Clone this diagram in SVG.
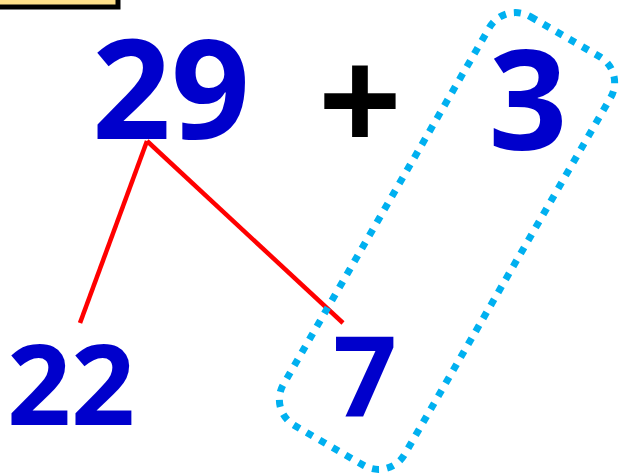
<svg xmlns="http://www.w3.org/2000/svg" width="621" height="474" viewBox="0 0 621 474">
<style>
.num{font-family:"Open Sans","Liberation Sans",sans-serif;font-weight:bold;fill:#0000CC;text-anchor:middle}
.big{font-size:138px}
.small{font-size:112px}
.conn line{stroke:#FF0000;stroke-width:4.5;stroke-linecap:butt}
</style>
<rect x="-10" y="-30" width="128" height="37" fill="#FFE08A" stroke="#000" stroke-width="5"/>
<g id="n29"><text class="num big" x="171" y="139">29</text></g>
<g id="plus"><text x="360" y="153" font-family="'Open Sans','Liberation Sans',sans-serif" font-weight="bold" font-size="147" text-anchor="middle" fill="#000">+</text></g>
<g id="n3"><text class="num big" x="528" y="150">3</text></g>
<g id="n22"><text class="num small" x="71" y="425">22</text></g>
<g id="n7"><text class="num small" x="365" y="416">7</text></g>
<g id="conn" class="conn">
<line x1="147" y1="141" x2="80" y2="323"/>
<line x1="147" y1="141" x2="343" y2="323"/>
</g>
<g id="loop"><rect x="-70" y="-236" width="140" height="472" rx="30" transform="translate(447 241) rotate(30)" fill="none" stroke="#00B0F0" stroke-width="7" stroke-dasharray="7 8"/></g>
</svg>
